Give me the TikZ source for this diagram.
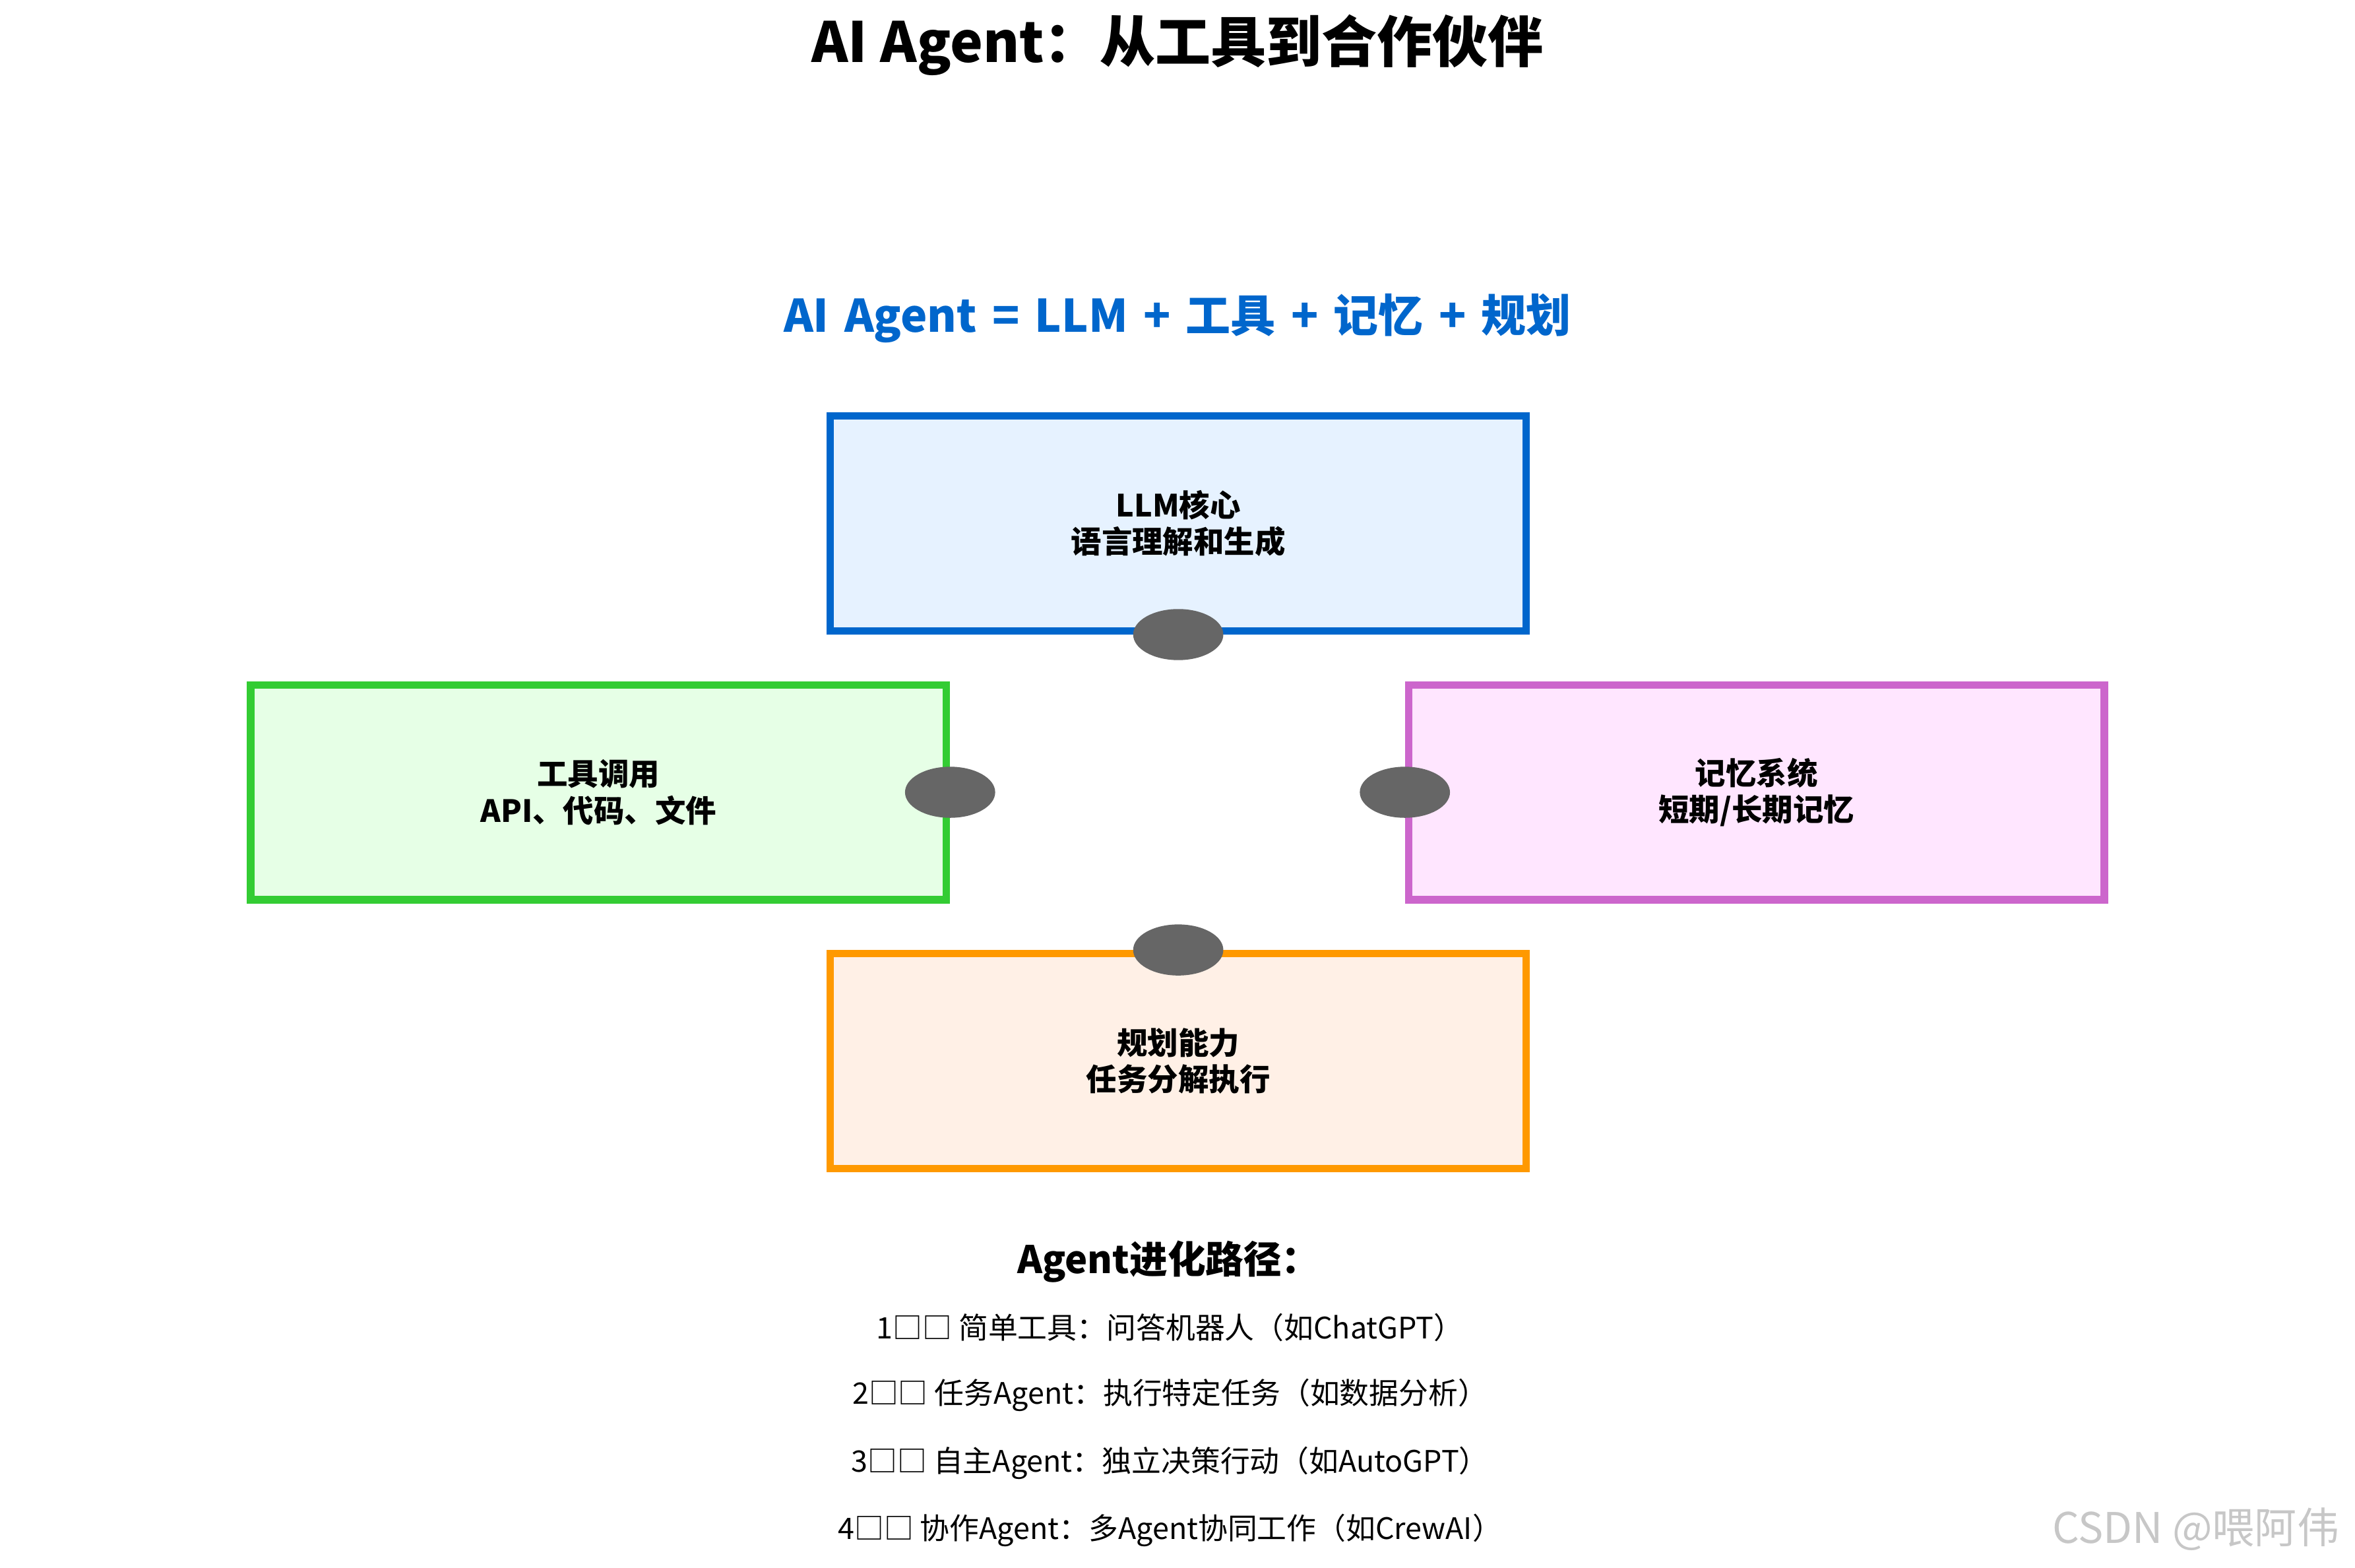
\documentclass[tikz,border=0pt]{standalone}
\usepackage{fontspec}
\setmainfont{Noto Sans CJK SC}
\usetikzlibrary{positioning,shapes}
\definecolor{llmline}{HTML}{0066CC}\definecolor{llmfill}{HTML}{E6F2FF}
\definecolor{toolline}{HTML}{33CC33}\definecolor{toolfill}{HTML}{E6FFE6}
\definecolor{memline}{HTML}{CC66CC}\definecolor{memfill}{HTML}{FFE6FF}
\definecolor{planline}{HTML}{FF9900}\definecolor{planfill}{HTML}{FFF0E6}
\definecolor{dotgray}{HTML}{666666}
\tikzset{
  part/.style={draw,line width=1.4pt,minimum width=4.63cm,minimum height=1.43cm,
    align=center,font=\fontsize{5.8}{6.9}\selectfont\bfseries},
  joint/.style={ellipse,fill=dotgray,minimum width=0.6cm,minimum height=0.34cm,inner sep=0pt},
  stage/.style={font=\fontsize{5.6}{7}\selectfont}
}
\begin{document}
\begin{tikzpicture}[x=0.01cm,y=-0.01cm]
                \useasboundingbox (0,0) rectangle (1568,1044);
                \node[font=\fontsize{10.5}{12}\selectfont\bfseries] (title) at (784,30) {AI Agent：从工具到合作伙伴};
                \node[font=\fontsize{8.5}{10}\selectfont\bfseries,text=llmline] (formula) at (784,212) {\spaceskip=2.9pt AI Agent = LLM + 工具 + 记忆 + 规划};
                \node[part,draw=llmline,fill=llmfill] (llm) at (784.5,348.5) {LLM核心\\语言理解和生成};
                \node[part,draw=toolline,fill=toolfill] (tool) at (398.5,527.5) {工具调用\\API、代码、文件};
                \node[part,draw=memline,fill=memfill] (mem) at (1169.5,527.5) {记忆系统\\短期/长期记忆};
                \node[part,draw=planline,fill=planfill] (plan) at (784.5,706.5) {规划能力\\任务分解执行};
                \node[joint] (jllm) at (llm.south) {};
                \node[joint] (jtool) at (tool.east) {};
                \node[joint] (jmem) at (mem.west) {};
                \node[joint] (jplan) at (plan.north) {};
                \node[font=\fontsize{7.2}{9}\selectfont\bfseries] (path) at (778,840) {Agent进化路径：};
                \node[stage] (s1) at (779,884) {1□□ 简单工具：问答机器人（如ChatGPT）};
                \node[stage] (s2) at (779,929) {2□□ 任务Agent：执行特定任务（如数据分析）};
                \node[stage] (s3) at (779,974) {3□□ 自主Agent：独立决策行动（如AutoGPT）};
                \node[stage] (s4) at (779,1019) {4□□ 协作Agent：多Agent协同工作（如CrewAI）};
                \node[font=\fontsize{8}{9}\selectfont,text=black!22] (mark) at (1462,1018) {CSDN @喂阿伟};
            \end{tikzpicture}
\end{document}
